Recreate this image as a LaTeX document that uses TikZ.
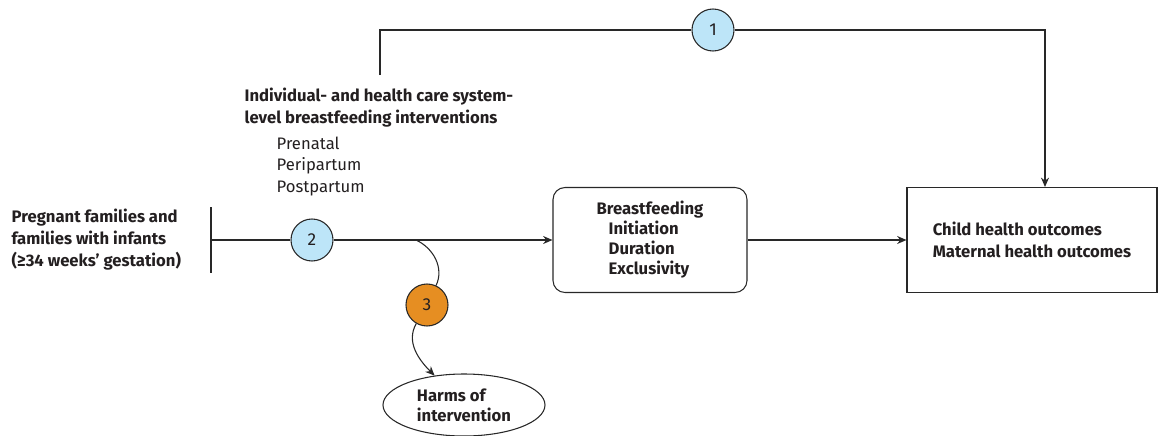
\documentclass[tikz,border=0pt]{standalone}
\usepackage{fontspec}
\setmainfont{Fira Sans}
\usetikzlibrary{arrows.meta,positioning,calc,shapes.geometric}
\definecolor{lineg}{RGB}{40,40,40}
\definecolor{txtg}{RGB}{35,31,32}
\definecolor{kqblue}{RGB}{189,229,248}
\definecolor{kqorange}{RGB}{230,142,34}

\begin{document}
\begin{tikzpicture}[x=0.75pt,y=-0.75pt,font=\fontsize{12.5}{16.5}\selectfont\bfseries,text=txtg,
  kq/.style={circle,draw=lineg,line width=0.8pt,minimum size=31.5pt,inner sep=0pt,font=\fontsize{13}{15}\selectfont},
  box/.style={draw=lineg,line width=0.8pt,minimum height=78.75pt,align=left},
  arr/.style={-{Stealth[length=7pt,width=6pt]},line width=0.8pt,draw=lineg},
  conn/.style={line width=0.8pt,draw=lineg}]
\useasboundingbox (0,0) rectangle (1158,436);
\node[anchor=west,align=left] (pop) at (7,240) {Pregnant families and\\families with infants\\(≥34 weeks’ gestation)};
\coordinate (bartop) at (211,207);
\coordinate (barbot) at (211,273);
\coordinate (src) at (211,240);
\coordinate (br) at (416,240);
\coordinate (tl) at (380,75);
\node[kq,fill=kqblue] (c2) at (312,240) {2};
\node[box,rounded corners=9pt,minimum width=145.5pt,font=\fontsize{12.5}{15}\selectfont\bfseries] (bf) at (650,240) {Breastfeeding\\\hspace*{9pt}Initiation\\\hspace*{9pt}Duration\\\hspace*{9pt}Exclusivity};
\node[box,minimum width=187.5pt] (out) at (1032,240) {Child health outcomes\\Maternal health outcomes};
\node[kq,fill=kqblue] (c1) at (713,30) {1};
\node[kq,fill=kqorange] (c3) at (427,305) {3};
\node[ellipse,draw=lineg,line width=0.8pt,minimum width=121.5pt,minimum height=46.5pt,align=left,inner sep=0pt,font=\fontsize{12.5}{15}\selectfont\bfseries] (harms) at (464,405) {Harms of\\intervention};
\node[anchor=west,align=left] (hdr) at (240,108) {Individual- and health care system-\\level breastfeeding interventions};
\node[align=left,font=\fontsize{12.5}{16}\selectfont,below right=0pt and 24pt of hdr.south west] (phase) {Prenatal\\Peripartum\\Postpartum};
\draw[conn] (bartop) -- (barbot);
\draw[conn] (src) -- (c2);
\foreach \a/\b in {c2/bf,bf/out} \draw[arr] (\a)--(\b);
\draw[conn] (tl) |- (c1);
\draw[arr] (c1) -| ($(out.north)+(13,0)$);
\draw[conn] (br) to[out=-25,in=65] (c3);
\draw[arr] (c3) to[out=-120,in=135] (harms);
\end{tikzpicture}
\end{document}
